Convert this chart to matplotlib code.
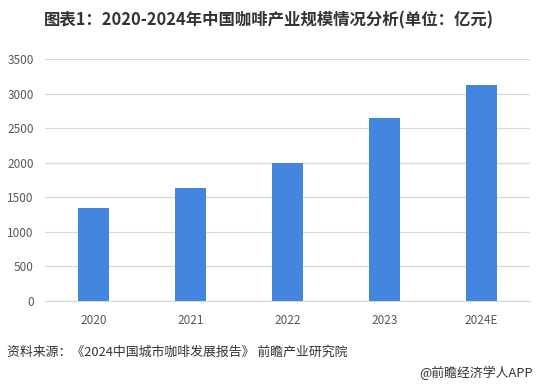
import matplotlib.pyplot as plt

plt.rcParams["font.family"] = ["Noto Sans CJK SC", "DejaVu Sans"]

years = ["2020", "2021", "2022", "2023", "2024E"]
scale = [1344, 1634, 2000, 2650, 3125]  # 亿元
yticks = [0, 500, 1000, 1500, 2000, 2500, 3000, 3500]

fig = plt.figure(figsize=(5.37, 3.85), dpi=100)
ax = fig.add_axes([45 / 537, 1 - 301 / 385, 485 / 537, 242 / 385])

ax.bar(years, scale, width=0.31, color="#4285de", zorder=3)
ax.set_ylim(0, 3500)
ax.set_xlim(-0.5, 4.5)
ax.set_yticks(yticks)
ax.grid(axis="y", color="#d9d9d9", linewidth=0.9, zorder=0)
for s in ["top", "right", "left"]:
    ax.spines[s].set_visible(False)
ax.spines["bottom"].set_color("#d9d9d9")
ax.tick_params(axis="both", length=0, labelsize=8.5, colors="#595959")
ax.tick_params(axis="x", pad=9)
ax.tick_params(axis="y", pad=8)

fig.text(0.5, 1 - 20 / 385, "图表1：2020-2024年中国咖啡产业规模情况分析(单位：亿元)",
         ha="center", va="center", fontsize=11.8, fontweight="bold", color="#333333")
fig.text(7 / 537, 1 - 352 / 385, "资料来源：《2024中国城市咖啡发展报告》 前瞻产业研究院",
         ha="left", va="center", fontsize=9.3, color="#333333")
fig.text(533 / 537, 1 - 373 / 385, "@前瞻经济学人APP",
         ha="right", va="center", fontsize=9.3, color="#333333")

fig.savefig("out.png", dpi=100)
